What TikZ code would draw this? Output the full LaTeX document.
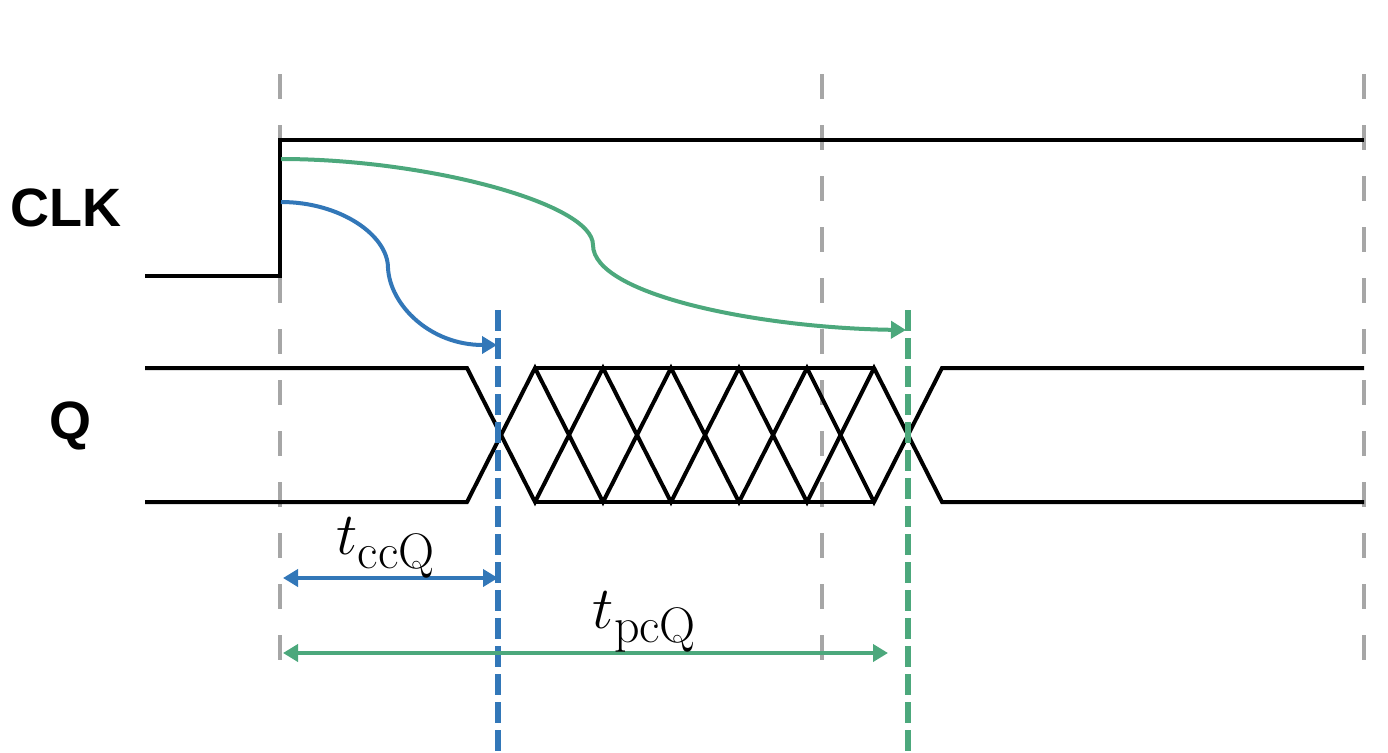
\documentclass[tikz,border=0pt]{standalone}
\usepackage{fontspec}
\newfontfamily\sigfont{Liberation Sans}
\usetikzlibrary{arrows.meta}
\definecolor{gridgray}{RGB}{166,166,166}
\definecolor{myblue}{RGB}{50,119,184}
\definecolor{mygreen}{RGB}{76,168,124}
\tikzset{
  gridline/.style={draw=gridgray, line width=4pt, dash pattern=on 25pt off 26pt},
  wave/.style={draw=black, line width=4pt, line join=miter},
  bluemark/.style={draw=myblue, line width=6.5pt, dash pattern=on 21pt off 7pt},
  greenmark/.style={draw=mygreen, line width=6.5pt, dash pattern=on 21pt off 7pt},
  delay/.style={line width=4pt, -{Triangle[length=15pt,width=17pt]}},
  span/.style={line width=4.5pt, {Triangle[length=15pt,width=17pt]}-{Triangle[length=15pt,width=17pt]}},
  siglabel/.style={font=\sigfont\bfseries\fontsize{54}{60}\selectfont, inner sep=0pt},
  timelabel/.style={font=\fontsize{24.88}{30}\selectfont, scale=2.41, inner sep=0pt}
}
\begin{document}
\begin{tikzpicture}[x=1pt,y=-1pt]
\useasboundingbox (0,0) rectangle (1388,752);

% grid
\draw[gridline] (280,74) -- (280,661);
\draw[gridline] (822,74) -- (822,661);
\draw[gridline] (1364,74) -- (1364,661);

% labels
\node[siglabel] (clk) at (66,208) {CLK};
\node[siglabel] (q) at (71,426) {Q};

% CLK waveform
\draw[wave] (145,276) -- (280,276) -- (280,140) -- (1364,140);

% Q waveform
\draw[wave] (145,502) -- (467,502) -- (535,368) -- (603,502) -- (671,368) -- (739,502) -- (807,368) -- (874,502) -- (942,368) -- (1364,368);
\draw[wave] (145,368) -- (467,368) -- (535,502) -- (603,368) -- (671,502) -- (739,368) -- (807,502) -- (874,368) -- (942,502) -- (1364,502);
\draw[wave] (535,368) -- (874,368);
\draw[wave] (535,502) -- (874,502);

% markers
\coordinate (bt) at (498,310);
\coordinate (bb) at (498,752);
\coordinate (gt) at (908,310);
\coordinate (gb) at (908,752);
\draw[bluemark] (bt) -- (bb);
\draw[greenmark] (gt) -- (gb);

% delay curves
\coordinate (bs) at (281,202);
\coordinate (bm) at (388,268);
\coordinate (be) at (497,345);
\draw[delay, myblue] (bs) .. controls (340,202) and (388,235) .. (bm)
  .. controls (390,305) and (430,345) .. (be);
\coordinate (gs) at (281,159);
\coordinate (gm) at (593,245);
\coordinate (ge) at (906,330);
\draw[delay, mygreen] (gs) .. controls (425,159) and (593,203) .. (gm)
  .. controls (593,295) and (760,328) .. (ge);

% spans
\coordinate (s1a) at (283,578);
\coordinate (s1b) at (498,578);
\coordinate (s2a) at (283,653);
\coordinate (s2b) at (888,653);
\draw[span, myblue] (s1a) -- (s1b);
\draw[span, mygreen] (s2a) -- (s2b);

\node[timelabel] (tcc) at (386,548) {$t_{\mathrm{ccQ}}$};
\node[timelabel] (tpc) at (645,622) {$t_{\mathrm{pcQ}}$};
\end{tikzpicture}
\end{document}
